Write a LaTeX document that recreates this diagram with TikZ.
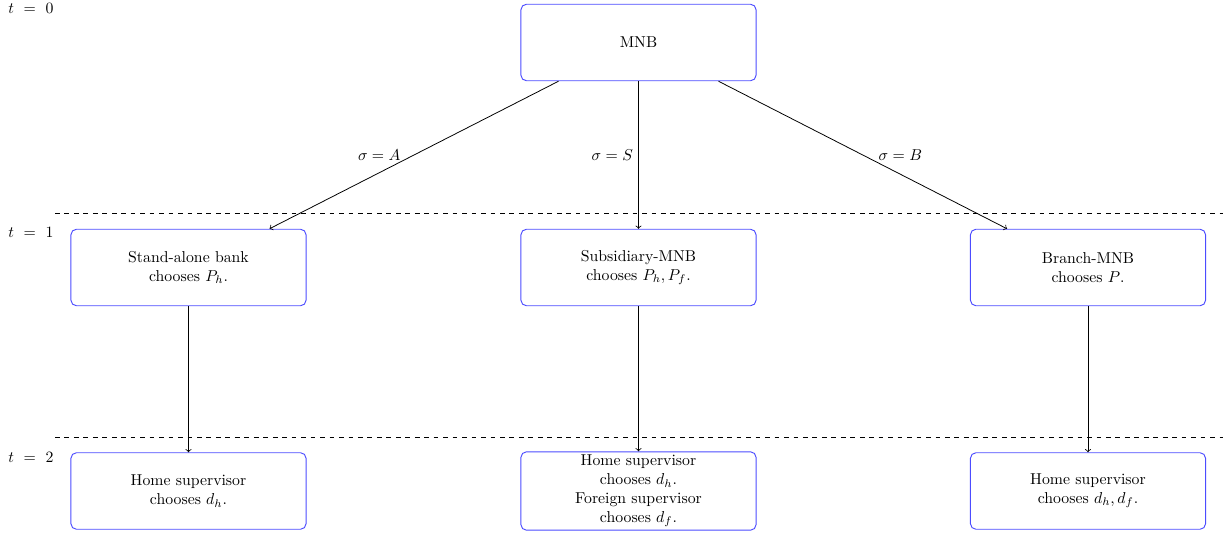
\documentclass[tikz,border=0pt]{standalone}
\usepackage{amsmath}
\usepackage{tikz}
\usetikzlibrary{calc}

\tikzset{
  stage/.style={draw=blue!70, line width=0.6pt, rounded corners=3.5pt, minimum width=149pt, minimum height=48.5pt, align=center, inner sep=2pt},
  arr/.style={->, line width=0.5pt},
  timeline/.style={line width=0.5pt, dash pattern={on 3pt off 3pt}}
}

\begin{document}
\begin{tikzpicture}[x=0.6337pt,y=0.6337pt,yscale=-1,xscale=1]
\useasboundingbox (0,0) rectangle (1231,535);

%Boxes
\node [stage] (mnb) at (638.5,42.5) {MNB};
\node [stage] (alone) at (188.5,267.5) {Stand-alone bank\\chooses $P_h$.};
\node [stage] (subs) at (638.5,267.5) {Subsidiary-MNB\\chooses $P_h,P_f$.};
\node [stage] (branch) at (1088,267.5) {Branch-MNB\\chooses $P$.};
\node [stage] (homeA) at (188.5,491) {Home supervisor\\chooses $d_h$.};
\node [stage] (supS) at (638.5,491) {Home supervisor\\chooses $d_h$.\\Foreign supervisor\\chooses $d_f$.};
\node [stage] (homeB) at (1088,491) {Home supervisor\\chooses $d_h,d_f$.};

%Dashed Lines
\draw [timeline] (55,213) -- (1223,213) ;
\draw [timeline] (55,437) -- (1223,437) ;

%Arrows
\draw [arr] ($(mnb.south)+(-80,0)$) -- node [left=5pt] {$\sigma=A$} ($(alone.north)+(81,0)$) ;
\draw [arr] (mnb.south) -- node [left] {$\sigma=S$} (subs.north) ;
\draw [arr] ($(mnb.south)+(80,0)$) -- node [right=6.5pt] {$\sigma=B$} ($(branch.north)+(-81,0)$) ;
\draw [arr] (alone) -- (homeA) ;
\draw [arr] (subs) -- (supS) ;
\draw [arr] (branch) -- (homeB) ;

% Text Node
\node [anchor=west,inner sep=0pt] (t0) at (8,8) {$t\ =\ 0$};
% Text Node
\node [anchor=west,inner sep=0pt] (t1) at (8,232) {$t\ =\ 1$};
% Text Node
\node [anchor=west,inner sep=0pt] (t2) at (8,457) {$t\ =\ 2$};

\end{tikzpicture}
\end{document}
